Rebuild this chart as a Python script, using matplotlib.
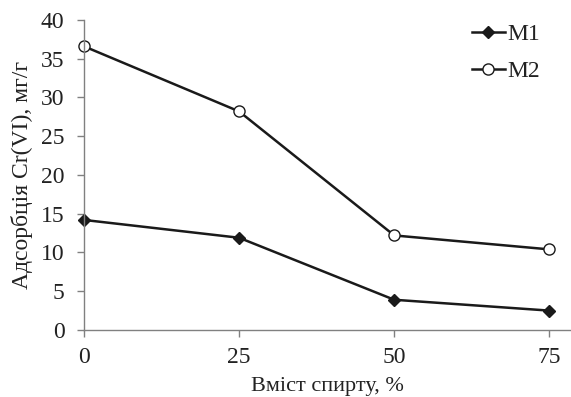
import matplotlib
matplotlib.use("Agg")
import matplotlib.pyplot as plt

plt.rcParams['font.family'] = ['Liberation Serif', 'DejaVu Serif']

categories = ["0", "25", "50", "75"]
m1 = [14.2, 11.9, 3.9, 2.5]
m2 = [36.6, 28.2, 12.2, 10.4]

fig = plt.figure(figsize=(5.71, 3.97), dpi=100)
ax = fig.add_axes([0.1471, 0.1688, 0.853, 0.7809])
x = [0, 1, 2, 3]
ax.plot(x, m1, color='#1a1a1a', lw=1.8, marker='D', ms=6, mfc='#1a1a1a', mec='#1a1a1a', label='M1', clip_on=False)
ax.plot(x, m2, color='#1a1a1a', lw=1.8, marker='o', ms=8, mfc='white', mec='#1a1a1a', mew=1, label='M2', clip_on=False)

ax.set_xlim(0, 3.14)
ax.set_ylim(0, 40)
ax.set_yticks(range(0, 41, 5))
ax.set_xticks(x)
ax.set_xticklabels(categories)
for s in ['top', 'right']:
    ax.spines[s].set_visible(False)
for s in ['left', 'bottom']:
    ax.spines[s].set_color('#808080')
    ax.spines[s].set_linewidth(1)
ax.tick_params(axis='both', colors='#808080', labelcolor='#222222', labelsize=17, length=5, width=1)
ax.tick_params(axis='x', pad=7)
ax.tick_params(axis='y', pad=9)
ax.set_xlabel('Вміст спирту, %', fontsize=16, color='#222222', labelpad=7)
ax.set_ylabel('Адсорбція Cr(VI), мг/г', fontsize=17, color='#222222', labelpad=6)
leg = ax.legend(loc='upper right', bbox_to_anchor=(0.965, 1.035), frameon=False, fontsize=17,
                handlelength=1.4, handletextpad=0.1, labelspacing=0.66, markerscale=1.0,
                borderaxespad=0.2)
for t in leg.get_texts():
    t.set_color('#222222')
fig.savefig('out.png', dpi=100)
